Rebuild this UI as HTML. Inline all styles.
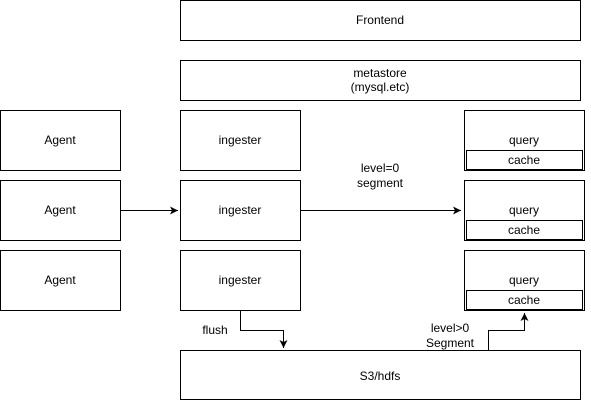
<!DOCTYPE html>
<html><head><meta charset="utf-8"><style>
html,body{margin:0;padding:0;background:#fff;}
svg{display:block;}
text{font-family:"Liberation Sans",Arial,sans-serif;font-size:12px;fill:#000;text-anchor:middle;}
</style></head><body>
<svg width="591" height="401" viewBox="0 0 591 401" xmlns="http://www.w3.org/2000/svg">
<defs>
<marker id="ah" markerWidth="10" markerHeight="10" refX="8" refY="4" orient="auto" markerUnits="userSpaceOnUse">
<path d="M0,0 L8,4 L0,8 L2,4 Z" fill="#000"/>
</marker>
</defs>
<g fill="#fff" stroke="#000" stroke-width="1">
<rect x="180.5" y="0.5" width="400" height="40"/>
<rect x="180.5" y="60.5" width="400" height="40"/>
<rect x="0.5" y="110.5" width="120" height="60"/>
<rect x="0.5" y="180.5" width="120" height="60"/>
<rect x="0.5" y="250.5" width="120" height="60"/>
<rect x="180.5" y="110.5" width="120" height="60"/>
<rect x="180.5" y="180.5" width="120" height="60"/>
<rect x="180.5" y="250.5" width="120" height="60"/>
<rect x="464.5" y="110.5" width="120" height="60"/>
<rect x="464.5" y="180.5" width="120" height="60"/>
<rect x="464.5" y="250.5" width="120" height="60"/>
<rect x="466.5" y="150.5" width="116" height="19"/>
<rect x="466.5" y="220.5" width="116" height="19"/>
<rect x="466.5" y="290.5" width="116" height="19"/>
<rect x="180.5" y="350.5" width="400" height="49"/>
</g>
<g fill="none" stroke="#000" stroke-width="1">
<path d="M120.5,210.5 L178,210.5" marker-end="url(#ah)"/>
<path d="M300.5,210.5 L461,210.5" marker-end="url(#ah)"/>
<path d="M240.5,310.5 L240.5,330.5 L283.5,330.5 L283.5,348" marker-end="url(#ah)"/>
<path d="M488.5,350.5 L488.5,330.5 L524.5,330.5 L524.5,313" marker-end="url(#ah)"/>
</g>
<text x="380" y="24">Frontend</text>
<text x="380" y="77">metastore</text>
<text x="380" y="91">(mysql.etc)</text>
<text x="60" y="144">Agent</text>
<text x="60" y="214">Agent</text>
<text x="60" y="284">Agent</text>
<text x="240" y="144">ingester</text>
<text x="240" y="214">ingester</text>
<text x="240" y="284">ingester</text>
<text x="524" y="144">query</text>
<text x="524" y="214">query</text>
<text x="524" y="284">query</text>
<text x="524" y="164">cache</text>
<text x="524" y="234">cache</text>
<text x="524" y="304">cache</text>
<text x="380" y="172">level=0</text>
<text x="380" y="187">segment</text>
<text x="215" y="334">flush</text>
<text x="450" y="332">level&gt;0</text>
<text x="450" y="347">Segment</text>
<text x="380" y="380">S3/hdfs</text>
</svg>
</body></html>
